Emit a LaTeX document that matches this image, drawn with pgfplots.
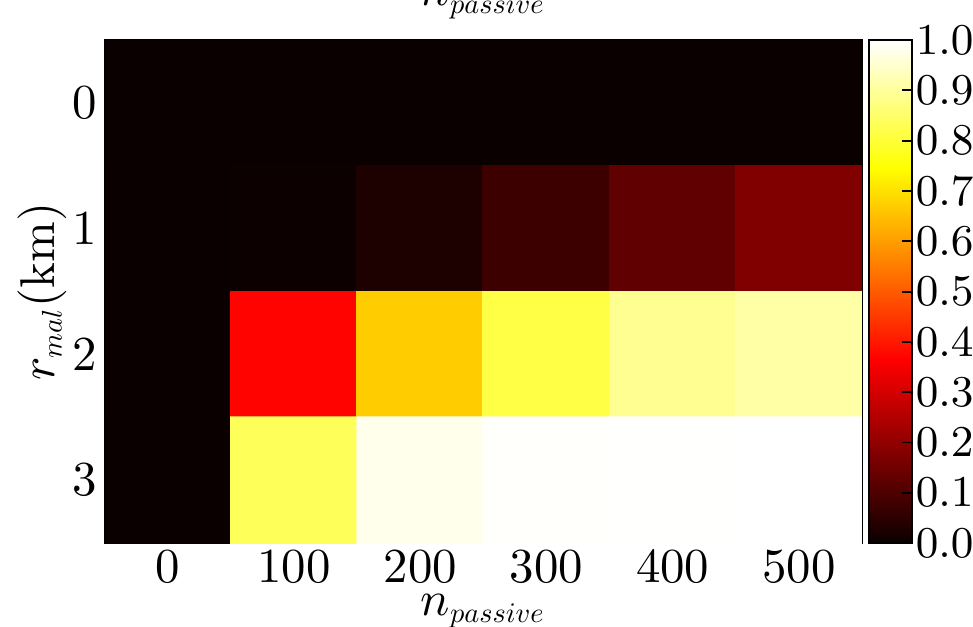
\documentclass[border=0pt]{standalone}
\usepackage{graphicx}
\usepackage{pgfplots}
\pgfplotsset{compat=1.18}
\pgfplotsset{colormap={mplhot}{rgb(0pt)=(0.0416,0,0); rgb(365pt)=(1,0,0); rgb(746pt)=(1,1,0); rgb(1000pt)=(1,1,1)}}
\newcommand{\sub}[1]{\scalebox{0.58}{$#1$}}
\begin{document}
\begin{tikzpicture}
\begin{axis}[
  scale only axis,
  width=5.446cm, height=3.619cm,
  xmin=-50, xmax=550, ymin=-0.5, ymax=3.5,
  y dir=reverse,
  xtick={0,100,200,300,400,500},
  ytick={0,1,2,3},
  tick align=inside,
  major tick length=0.07cm,
  tick style={black, line width=0.4pt},
  xticklabel style={inner sep=1.5pt},
  yticklabel style={inner sep=1.5pt},
  colormap name=mplhot,
  point meta min=0, point meta max=1,
  xlabel={$n_{\sub{passive}}$},
  xlabel style={at={(axis description cs:0.5,0)}, anchor=base, yshift=-0.52cm},
  ylabel={$r_{\sub{mal}}(\mathrm{km})$},
  ylabel style={at={(axis description cs:-0.083,0.5)}, anchor=center},
  every axis title/.style={at={(axis description cs:0.5,1)}, anchor=base, yshift=0.245cm},
  title={$n_{\sub{passive}}$},
  colorbar right,
  colorbar shift/.style={xshift=0.05cm},
  colorbar style={
    at={(parent axis.north east)}, anchor=north west,
    scale only axis, width=0.309cm, height=3.619cm,
    ytick={0,0.1,0.2,0.3,0.4,0.5,0.6,0.7,0.8,0.9,1.0},
    ytick pos=right, yticklabel pos=right,
    tick align=inside, major tick length=0.07cm,
    yticklabel style={inner sep=0.6pt, font=\fontsize{9}{10}\selectfont, /pgf/number format/fixed, /pgf/number format/fixed zerofill, /pgf/number format/precision=1},
  },
]
\addplot[matrix plot*, mesh/cols=6, point meta=explicit] table[meta=c] {
x y c
0 0 0
100 0 0
200 0 0
300 0 0
400 0 0
500 0 0
0 1 0
100 1 0.003
200 1 0.027
300 1 0.075
400 1 0.127
500 1 0.175
0 2 0
100 2 0.37
200 2 0.67
300 2 0.815
400 2 0.89
500 2 0.91
0 3 0
100 3 0.835
200 3 0.98
300 3 0.997
400 3 0.999
500 3 1.0
};
\coordinate (bl) at (axis cs:-50,3.5);
\coordinate (tr) at (axis cs:550,-0.5);
\end{axis}
\pgfresetboundingbox
\useasboundingbox ([xshift=-0.755cm,yshift=-0.597cm]bl) rectangle ([xshift=0.799cm,yshift=0.288cm]tr);
\end{tikzpicture}
\end{document}
